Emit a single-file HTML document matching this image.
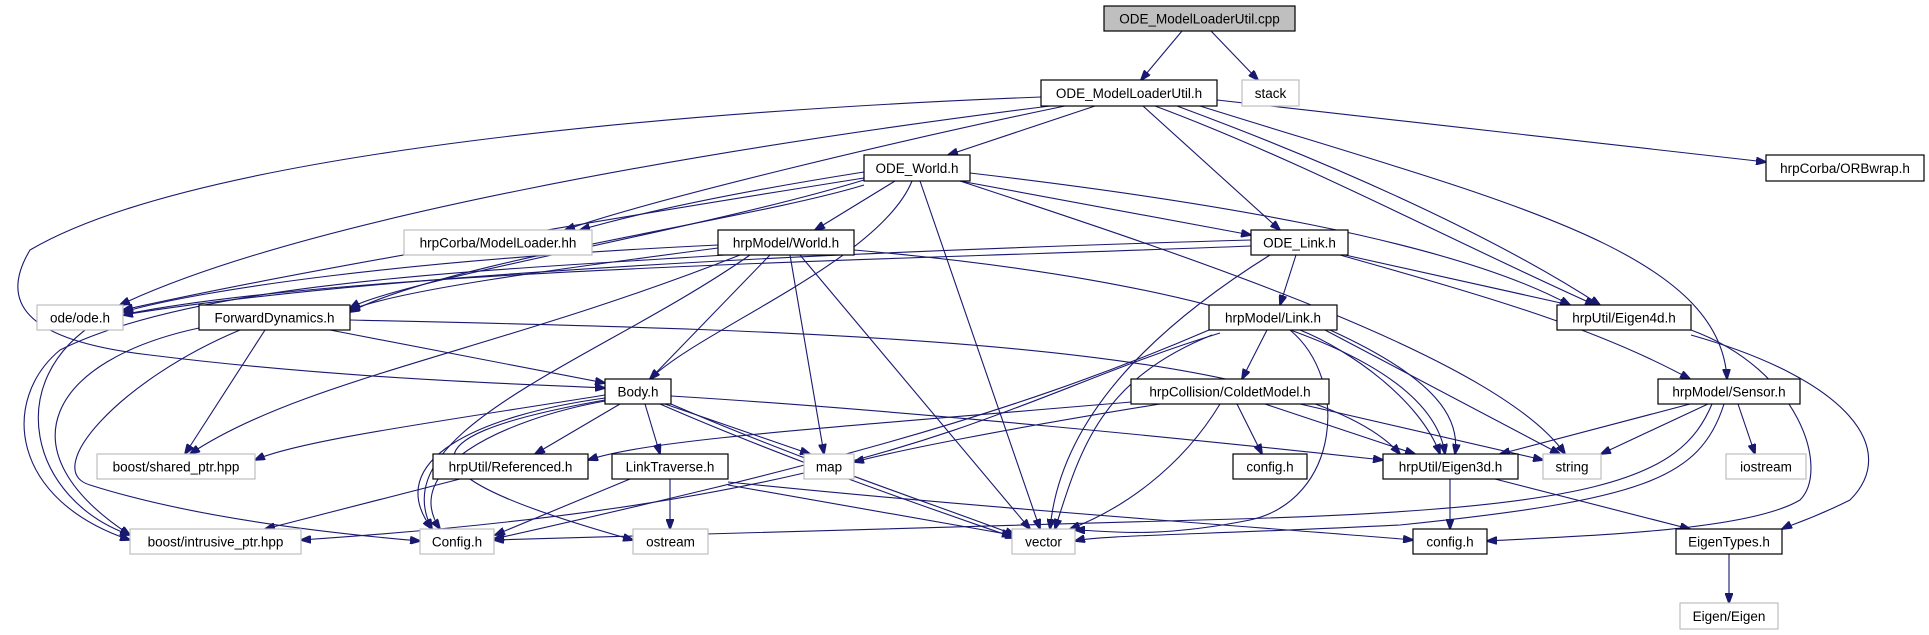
<!DOCTYPE html>
<html><head><meta charset="utf-8"><style>
html,body{margin:0;padding:0;background:#fff}
svg{display:block}
text{font-family:"Liberation Sans","DejaVu Sans",sans-serif;font-size:13.5px;fill:#000}
.n{fill:#fff;stroke:#000;stroke-width:1.2}
.g{fill:#fff;stroke:#bfbfbf;stroke-width:1.2}
.e{fill:none;stroke:#191970;stroke-width:1.1}
</style></head><body>
<svg width="1929" height="635" viewBox="0 0 1929 635" xmlns="http://www.w3.org/2000/svg">
<defs><marker id="a" markerUnits="userSpaceOnUse" markerWidth="11" markerHeight="8" refX="10" refY="4" orient="auto"><path d="M0,0 L11,4 L0,8 z" fill="#191970" stroke="#191970"/></marker></defs>
<g class="e" marker-end="url(#a)">
<path d="M1182,31 L1141,80"/>
<path d="M1211,31 L1258,80"/>
<path d="M1217,100 C1400,120 1650,150 1766,162"/>
<path d="M1041,97 C700,110 200,150 30,250 C0,300 20,340 150,355 C350,380 550,385 605,388"/>
<path d="M1050,106 C700,150 300,220 120,305"/>
<path d="M1065,106 C900,140 650,200 565,230"/>
<path d="M1095,106 L948,155"/>
<path d="M1143,106 L1280,230"/>
<path d="M1155,106 C1300,160 1450,240 1595,305"/>
<path d="M1177,106 C1350,170 1500,240 1600,305"/>
<path d="M1200,106 C1500,200 1720,250 1727,379"/>
<path d="M864,172 C750,190 650,210 580,230"/>
<path d="M864,178 C600,220 300,270 123,310"/>
<path d="M864,180 C700,230 400,280 350,308"/>
<path d="M895,181 L815,230"/>
<path d="M912,181 C880,260 700,330 650,379"/>
<path d="M920,181 L1040,529"/>
<path d="M960,181 L1251,235"/>
<path d="M970,173 C1200,200 1450,240 1570,305"/>
<path d="M960,181 C1200,260 1500,360 1565,454"/>
<path d="M864,185 C750,220 450,260 350,312"/>
<path d="M718,245 C400,260 200,290 123,312"/>
<path d="M718,248 C550,270 400,290 350,310"/>
<path d="M725,255 C500,270 200,280 60,350 C0,400 10,500 130,540"/>
<path d="M1251,246 C900,260 300,270 100,320 C0,380 30,500 130,535"/>
<path d="M770,255 L650,379"/>
<path d="M790,255 L824,454"/>
<path d="M800,255 L1030,529"/>
<path d="M750,255 C600,360 380,430 432,529"/>
<path d="M740,255 C500,350 300,380 190,454"/>
<path d="M854,250 C1200,280 1430,350 1445,454"/>
<path d="M1296,255 L1280,305"/>
<path d="M1345,255 L1570,305"/>
<path d="M1340,255 C1500,300 1600,330 1690,379"/>
<path d="M1270,255 C1150,330 1060,420 1050,529"/>
<path d="M1251,240 C900,250 400,270 123,315"/>
<path d="M330,330 L605,383"/>
<path d="M265,330 L185,454"/>
<path d="M199,328 C50,360 0,450 130,535"/>
<path d="M240,330 C120,380 40,470 90,485 C200,520 350,535 420,541"/>
<path d="M350,320 C800,330 1300,340 1400,454"/>
<path d="M605,395 C450,420 300,440 255,460"/>
<path d="M620,404 L535,454"/>
<path d="M645,404 L660,454"/>
<path d="M665,404 L810,454"/>
<path d="M671,404 C800,460 950,510 1015,535"/>
<path d="M660,404 C800,465 950,515 1015,538"/>
<path d="M605,398 C480,415 380,460 432,529"/>
<path d="M605,401 C500,420 400,470 440,529"/>
<path d="M605,400 C380,440 420,480 633,540"/>
<path d="M671,396 C900,410 1200,440 1383,460"/>
<path d="M460,479 L265,529"/>
<path d="M630,479 L495,535"/>
<path d="M670,479 L670,529"/>
<path d="M728,485 L1012,535"/>
<path d="M728,482 C1000,510 1300,530 1413,540"/>
<path d="M1267,330 L1242,379"/>
<path d="M1300,330 C1350,350 1420,400 1440,454"/>
<path d="M1330,330 C1440,380 1460,420 1455,454"/>
<path d="M1325,330 L1560,454"/>
<path d="M1212,335 C1100,380 1080,450 1055,529"/>
<path d="M1290,330 C1350,380 1340,500 1250,520 C1150,540 1100,530 1075,530"/>
<path d="M1209,330 C1000,420 800,470 494,539"/>
<path d="M1220,333 C1000,400 900,500 301,540"/>
<path d="M1131,402 C800,430 650,440 588,460"/>
<path d="M1160,404 C1000,430 900,450 854,462"/>
<path d="M1237,404 L1262,454"/>
<path d="M1265,404 L1415,454"/>
<path d="M1300,404 L1543,460"/>
<path d="M1220,404 C1180,470 1120,510 1070,529"/>
<path d="M1690,404 L1500,454"/>
<path d="M1708,404 L1601,454"/>
<path d="M1738,404 L1755,454"/>
<path d="M1712,404 C1680,480 1600,510 1200,520 C800,530 600,535 494,540"/>
<path d="M1724,404 C1700,480 1640,500 1400,525 C1200,535 1100,535 1075,541"/>
<path d="M1450,479 L1450,529"/>
<path d="M1495,479 L1690,529"/>
<path d="M1691,330 C1800,370 1830,470 1800,500 C1750,530 1600,535 1487,541"/>
<path d="M1691,335 C1850,380 1900,450 1850,500 C1810,520 1790,525 1782,529"/>
<path d="M1729,554 L1729,603"/>
</g>
<g text-anchor="middle">
<rect x="1104" y="6" width="191" height="25" fill="#bfbfbf" stroke="#000" stroke-width="1.2"/><text x="1199.5" y="23.5">ODE_ModelLoaderUtil.cpp</text>
<rect class="n" x="1041" y="80" width="176" height="26"/><text x="1129" y="98">ODE_ModelLoaderUtil.h</text>
<rect class="g" x="1242" y="80" width="57" height="26"/><text x="1270.5" y="98">stack</text>
<rect class="n" x="864" y="155" width="106" height="26"/><text x="917" y="173">ODE_World.h</text>
<rect class="n" x="1766" y="155" width="158" height="26"/><text x="1845" y="173">hrpCorba/ORBwrap.h</text>
<rect class="n" x="718" y="230" width="136" height="25"/><text x="786" y="247.5">hrpModel/World.h</text>
<rect class="g" x="404" y="230" width="188" height="25"/><text x="498" y="247.5">hrpCorba/ModelLoader.hh</text>
<rect class="n" x="1251" y="230" width="97" height="25"/><text x="1299.5" y="247.5">ODE_Link.h</text>
<rect class="g" x="37" y="305" width="86" height="25"/><text x="80" y="322.5">ode/ode.h</text>
<rect class="n" x="199" y="305" width="151" height="25"/><text x="274.5" y="322.5">ForwardDynamics.h</text>
<rect class="n" x="1209" y="305" width="128" height="25"/><text x="1273" y="322.5">hrpModel/Link.h</text>
<rect class="n" x="1557" y="305" width="134" height="25"/><text x="1624" y="322.5">hrpUtil/Eigen4d.h</text>
<rect class="n" x="605" y="379" width="66" height="25"/><text x="638" y="396.5">Body.h</text>
<rect class="n" x="1131" y="379" width="198" height="25"/><text x="1230" y="396.5">hrpCollision/ColdetModel.h</text>
<rect class="n" x="1658" y="379" width="142" height="25"/><text x="1729" y="396.5">hrpModel/Sensor.h</text>
<rect class="g" x="97" y="454" width="158" height="25"/><text x="176" y="471.5">boost/shared_ptr.hpp</text>
<rect class="n" x="433" y="454" width="155" height="25"/><text x="510.5" y="471.5">hrpUtil/Referenced.h</text>
<rect class="n" x="612" y="454" width="116" height="25"/><text x="670" y="471.5">LinkTraverse.h</text>
<rect class="g" x="804" y="454" width="50" height="25"/><text x="829" y="471.5">map</text>
<rect class="n" x="1233" y="454" width="74" height="25"/><text x="1270" y="471.5">config.h</text>
<rect class="n" x="1383" y="454" width="135" height="25"/><text x="1450.5" y="471.5">hrpUtil/Eigen3d.h</text>
<rect class="g" x="1543" y="454" width="58" height="25"/><text x="1572" y="471.5">string</text>
<rect class="g" x="1726" y="454" width="80" height="25"/><text x="1766" y="471.5">iostream</text>
<rect class="g" x="130" y="529" width="171" height="25"/><text x="215.5" y="546.5">boost/intrusive_ptr.hpp</text>
<rect class="g" x="420" y="529" width="74" height="25"/><text x="457" y="546.5">Config.h</text>
<rect class="g" x="633" y="529" width="75" height="25"/><text x="670.5" y="546.5">ostream</text>
<rect class="g" x="1012" y="529" width="63" height="25"/><text x="1043.5" y="546.5">vector</text>
<rect class="n" x="1413" y="529" width="74" height="25"/><text x="1450" y="546.5">config.h</text>
<rect class="n" x="1676" y="529" width="106" height="25"/><text x="1729" y="546.5">EigenTypes.h</text>
<rect class="g" x="1680" y="603" width="98" height="26"/><text x="1729" y="621">Eigen/Eigen</text>
</g>
</svg>
</body></html>
